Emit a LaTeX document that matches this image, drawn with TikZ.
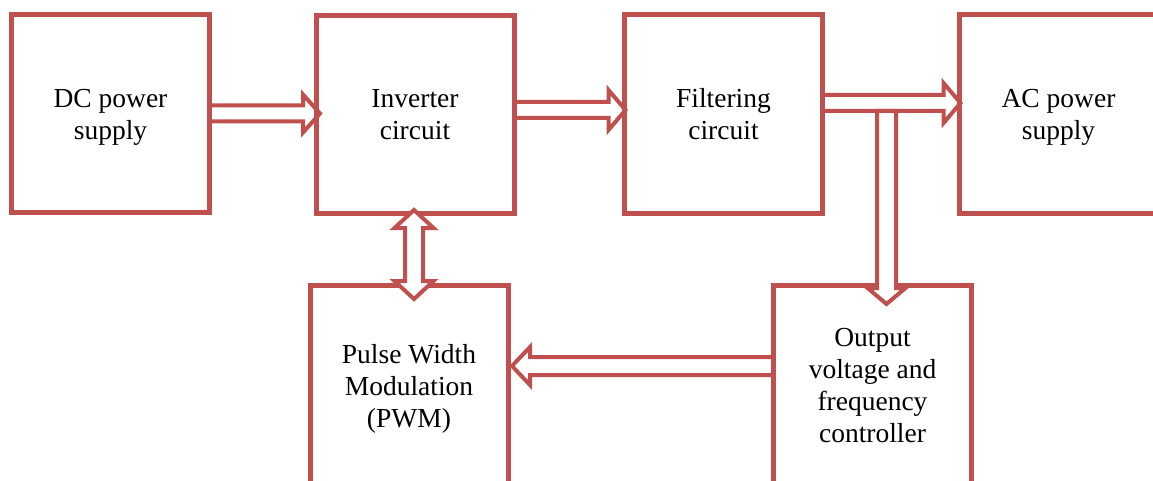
\documentclass[tikz,border=0pt]{standalone}
\usepackage{fontspec}
\setmainfont{Liberation Serif}
\usetikzlibrary{calc}
\pgfdeclarelayer{back}
\pgfdeclarelayer{under}
\pgfsetlayers{back,under,main}
\definecolor{boxred}{HTML}{C0504D}
\tikzset{
  blk/.style={draw=boxred, line width=5pt, minimum width=198pt, minimum height=198pt,
    inner sep=0pt, outer sep=0pt},
  txt/.style={inner sep=0pt, align=center, font=\fontsize{27.5}{32}\selectfont},
  arrowbody/.style={draw=boxred, line width=4pt, fill=white, line join=miter}
}
% single hollow arrow: #1 shaft half-width, #2 head half-width, #3 head length, #4 start, #5 tip
\newcommand\harrow[5]{%
  \coordinate (hS) at #4; \coordinate (hT) at #5;
  \coordinate (hB) at ($(hT)!#3!(hS)$);
  \draw[arrowbody] ($(hS)!#1!90:(hT)$) -- ($(hB)!#1!90:(hT)$) -- ($(hB)!#2!90:(hT)$)
    -- (hT) -- ($(hB)!#2!-90:(hT)$) -- ($(hB)!#1!-90:(hT)$) -- ($(hS)!#1!-90:(hT)$) -- cycle;}
% double-headed hollow arrow
\newcommand\hdarrow[5]{%
  \coordinate (hS) at #4; \coordinate (hT) at #5;
  \coordinate (hB) at ($(hT)!#3!(hS)$);
  \coordinate (hC) at ($(hS)!#3!(hT)$);
  \draw[arrowbody] (hS) -- ($(hC)!#2!90:(hT)$) -- ($(hC)!#1!90:(hT)$) -- ($(hB)!#1!90:(hT)$)
    -- ($(hB)!#2!90:(hT)$) -- (hT) -- ($(hB)!#2!-90:(hT)$) -- ($(hB)!#1!-90:(hT)$)
    -- ($(hC)!#1!-90:(hT)$) -- ($(hC)!#2!-90:(hT)$) -- cycle;}
\begin{document}
\begin{tikzpicture}[x=1pt,y=-1pt]
\begin{pgfonlayer}{back}
  \fill[white] (0,0) rectangle (1153,481);
\end{pgfonlayer}
\useasboundingbox (0,0) rectangle (1153,481);
\clip (0,0) rectangle (1153,481);

\node[blk] (dc)     at (110.5,113.5) {};
\node[blk] (inv)    at (415,114.5)   {};
\node[blk] (filter) at (723.5,114)   {};
\node[blk] (ac)     at (1058.5,114)  {};
\node[blk] (pwm)    at (409,384.5)   {};
\node[blk] (out)    at (872.5,384.5) {};

\node[txt] (dct)  at ($(dc.center)+(0,3.5)$)     {\strut DC power\\supply\strut};
\node[txt] (invt) at ($(inv.center)+(0,2.5)$)    {\strut Inverter\\circuit\strut};
\node[txt] (filt) at ($(filter.center)+(0,3)$)   {\strut Filtering\\circuit\strut};
\node[txt] (act)  at ($(ac.center)+(0,3)$)       {\strut AC power\\supply\strut};
\node[txt] (pwmt) at ($(pwm.center)+(0,5)$)      {\strut Pulse Width\\Modulation\\(PWM)\strut};
\node[txt] (outt) at ($(out.center)+(0,4)$)      {\strut Output\\voltage and\\frequency\\controller\strut};

\begin{pgfonlayer}{under}
  \harrow{8pt}{19pt}{17pt}{(dc.east)}{($(dc.east -| inv.west)+(4,0)$)}
  \harrow{8pt}{20pt}{17pt}{($(inv.east)+(0,-4.5)$)}{($(inv.east -| filter.west)+(1,-4.5)$)}
  \harrow{8pt}{20pt}{17pt}{($(filter.east)+(0,-11)$)}{($(filter.east -| ac.west)+(1,-11)$)}
  \harrow{9pt}{19pt}{18pt}{($(out.west)+(0,-18.5)$)}{($(out.west -| pwm.east)+(4,-18.5)$)}
\end{pgfonlayer}

\coordinate (tap) at ($(filter.east)+(64,-3)$);
\harrow{9.5pt}{19pt}{16pt}{(tap)}{($(tap |- out.north)+(0,18.5)$)}
\hdarrow{9pt}{19.5pt}{18pt}{($(inv.south)+(-1,-3.5)$)}{($(inv.south |- pwm.north)+(-1,13.5)$)}
\end{tikzpicture}
\end{document}
